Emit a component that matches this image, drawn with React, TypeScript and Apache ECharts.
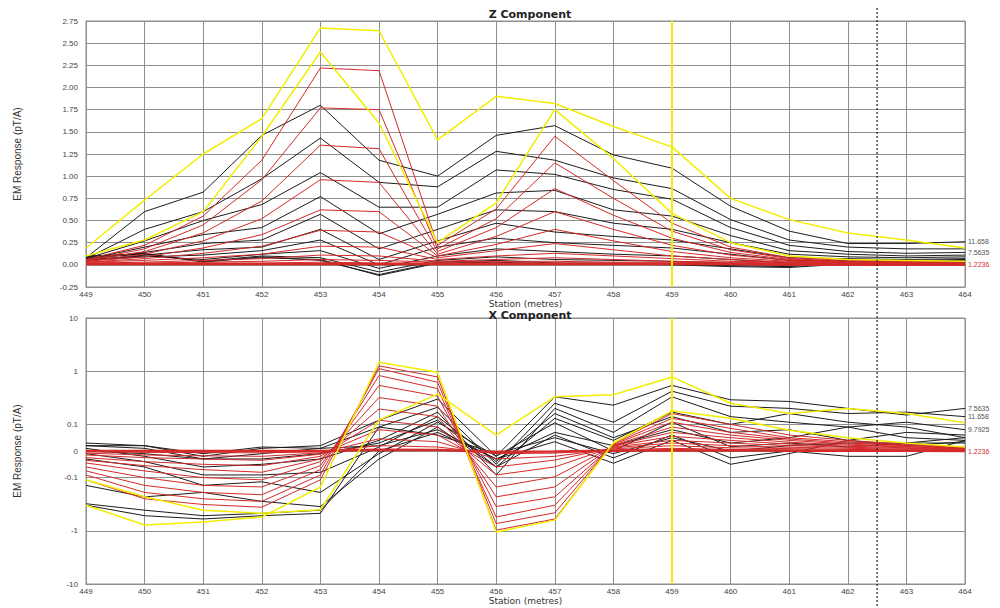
import React, { useEffect, useRef } from "react";
import * as echarts from "echarts";

const stations = [449, 450, 451, 452, 453, 454, 455, 456, 457, 458, 459, 460, 461, 462, 463, 464];
const zTickDigits = 2;
const xLogLabels: Record<string, string> = { "2.5": "10", "1.5": "1", "0.5": "0.1", "0": "0", "-0.5": "-0.1", "-1.5": "-1", "-2.5": "-10" };

// ---- Z component ----
const zYellowA = [0.19, 0.73, 1.25, 1.65, 2.67, 2.64, 1.41, 1.9, 1.82, 1.56, 1.33, 0.75, 0.51, 0.36, 0.28, 0.19];
const zYellowB = [0.1, 0.28, 0.6, 1.45, 2.4, 1.6, 0.25, 0.7, 1.75, 1.2, 0.58, 0.25, 0.1, 0.06, 0.05, 0.04];

const zBlack = [
  [0.08, 0.6, 0.82, 1.46, 1.8, 1.18, 1.0, 1.46, 1.57, 1.24, 1.09, 0.66, 0.38, 0.24, 0.24, 0.26],
  [0.07, 0.4, 0.6, 0.97, 1.43, 0.93, 0.88, 1.28, 1.18, 0.98, 0.86, 0.51, 0.28, 0.2, 0.18, 0.18],
  [0.07, 0.27, 0.5, 0.68, 1.04, 0.65, 0.65, 1.07, 1.02, 0.85, 0.74, 0.42, 0.22, 0.15, 0.13, 0.14],
  [0.06, 0.2, 0.34, 0.42, 0.77, 0.35, 0.57, 0.81, 0.84, 0.62, 0.55, 0.33, 0.16, 0.12, 0.1, 0.11],
  [0.06, 0.14, 0.24, 0.28, 0.57, 0.18, 0.4, 0.62, 0.6, 0.47, 0.4, 0.25, 0.12, 0.09, 0.08, 0.09],
  [0.05, 0.11, 0.17, 0.2, 0.4, 0.06, 0.27, 0.47, 0.37, 0.32, 0.28, 0.18, 0.08, 0.07, 0.06, 0.07],
  [0.05, 0.09, 0.11, 0.16, 0.28, 0.0, 0.2, 0.3, 0.25, 0.22, 0.19, 0.12, 0.05, 0.05, 0.05, 0.06],
  [0.06, 0.1, 0.06, 0.12, 0.16, -0.04, 0.1, 0.18, 0.15, 0.12, 0.1, 0.06, 0.02, 0.04, 0.04, 0.05],
  [0.08, 0.12, 0.04, 0.1, 0.08, -0.08, 0.05, 0.09, 0.06, 0.05, 0.04, 0.02, -0.01, 0.03, 0.03, 0.04],
  [0.09, 0.13, 0.03, 0.09, 0.05, -0.11, 0.03, 0.05, 0.02, 0.02, 0.01, -0.01, -0.02, 0.02, 0.02, 0.03],
  [0.1, 0.12, 0.04, 0.08, 0.06, -0.12, 0.02, 0.03, 0.01, 0.01, 0.0, -0.02, -0.03, 0.01, 0.02, 0.02],
];
const zBlackLabels = ["11.658", "", "7.5635", "", "", "", "", "", "", "", ""];

const zRed = [
  [0.06, 0.22, 0.55, 1.18, 2.22, 2.19, 0.22, 0.63, 1.45, 0.95, 0.47, 0.2, 0.08, 0.05, 0.04, 0.03],
  [0.05, 0.18, 0.45, 0.96, 1.77, 1.75, 0.18, 0.52, 1.15, 0.75, 0.38, 0.17, 0.07, 0.04, 0.03, 0.03],
  [0.05, 0.15, 0.36, 0.72, 1.35, 1.31, 0.15, 0.42, 0.86, 0.56, 0.3, 0.14, 0.06, 0.04, 0.03, 0.02],
  [0.04, 0.12, 0.27, 0.52, 0.96, 0.93, 0.12, 0.32, 0.6, 0.4, 0.22, 0.11, 0.05, 0.03, 0.03, 0.02],
  [0.04, 0.09, 0.19, 0.34, 0.62, 0.6, 0.1, 0.23, 0.4, 0.27, 0.15, 0.08, 0.04, 0.03, 0.02, 0.02],
  [0.03, 0.07, 0.13, 0.21, 0.39, 0.37, 0.08, 0.16, 0.24, 0.17, 0.1, 0.06, 0.03, 0.02, 0.02, 0.02],
  [0.03, 0.05, 0.08, 0.12, 0.21, 0.2, 0.06, 0.1, 0.13, 0.1, 0.07, 0.04, 0.03, 0.02, 0.02, 0.01],
  [0.02, 0.03, 0.05, 0.07, 0.11, 0.1, 0.04, 0.06, 0.08, 0.06, 0.04, 0.03, 0.02, 0.01, 0.01, 0.01],
  [0.02, 0.02, 0.03, 0.04, 0.06, 0.05, 0.03, 0.04, 0.04, 0.03, 0.03, 0.02, 0.01, 0.01, 0.01, 0.01],
  [0.01, 0.01, 0.02, 0.02, 0.03, 0.02, 0.02, 0.02, 0.02, 0.02, 0.02, 0.01, 0.01, 0.01, 0.01, 0.01],
  [0.01, 0.01, 0.01, 0.01, 0.01, 0.01, 0.01, 0.01, 0.01, 0.01, 0.01, 0.01, 0.0, 0.0, 0.0, 0.0],
];
const zRedLabels = ["", "", "", "", "", "", "", "", "", "", "1.2236"];

// ---- X component ----
const xYellowA = [-0.33, -0.78, -0.68, -0.55, -0.15, 1.47, 0.96, -1.05, -0.63, 0.03, 0.18, 0.13, 0.078, 0.05, 0.03, 0.015];
const xYellowB = [-0.11, -0.23, -0.41, -0.47, -0.4, 0.12, 0.37, 0.06, 0.33, 0.36, 0.78, 0.25, 0.16, 0.2, 0.16, 0.107];

const xBlack = [
  [0.03, 0.02, -0.02, 0.01, 0.02, 0.12, 0.3, -0.02, 0.33, 0.23, 0.54, 0.29, 0.27, 0.2, 0.15, 0.2],
  [0.02, 0.01, -0.03, -0.01, 0.01, 0.09, 0.21, -0.05, 0.25, 0.11, 0.42, 0.22, 0.2, 0.16, 0.17, 0.14],
  [0.01, -0.02, -0.06, -0.05, -0.03, 0.04, 0.17, -0.09, 0.2, 0.07, 0.33, 0.14, 0.11, 0.09, 0.11, 0.08],
  [-0.01, -0.04, -0.09, -0.09, -0.08, 0.015, 0.14, -0.04, 0.16, 0.05, 0.14, 0.07, 0.08, 0.04, 0.07, 0.06],
  [-0.03, -0.06, -0.14, -0.12, -0.19, -0.01, 0.11, -0.02, 0.107, 0.0, 0.11, 0.016, 0.03, 0.015, 0.03, 0.05],
  [-0.14, -0.23, -0.19, -0.28, -0.35, -0.03, 0.09, -0.06, 0.06, -0.026, 0.06, -0.026, 0.0, -0.02, -0.02, 0.04],
  [-0.31, -0.41, -0.52, -0.47, -0.41, 0.0, 0.07, -0.03, 0.035, -0.046, 0.04, -0.05, -0.01, 0.04, 0.02, 0.035],
  [-0.33, -0.52, -0.6, -0.52, -0.47, 0.09, 0.06, -0.01, 0.05, -0.01, 0.05, 0.0, 0.02, 0.03, 0.03, 0.03],
  [0.02, 0.02, -0.01, 0.015, 0.01, 0.02, 0.08, -0.03, 0.07, 0.02, 0.08, 0.03, 0.05, 0.09, 0.05, 0.04],
  [0.0, -0.01, -0.03, -0.03, -0.01, 0.03, 0.12, -0.06, 0.13, 0.04, 0.17, 0.1, 0.16, 0.11, 0.09, 0.05],
];
const xBlackLabels = ["7.5635", "11.658", "9.7925", "", "", "", "", "", "", ""];

const xRed = [
  [-0.11, -0.25, -0.32, -0.36, -0.11, 1.26, 0.78, -0.97, -0.6, 0.03, 0.16, 0.1, 0.06, 0.04, 0.025, 0.015],
  [-0.09, -0.19, -0.25, -0.28, -0.09, 1.12, 0.62, -0.73, -0.46, 0.028, 0.13, 0.085, 0.05, 0.035, 0.022, 0.013],
  [-0.075, -0.14, -0.19, -0.21, -0.07, 0.83, 0.47, -0.55, -0.33, 0.025, 0.11, 0.07, 0.045, 0.03, 0.02, 0.012],
  [-0.06, -0.1, -0.14, -0.15, -0.055, 0.54, 0.34, -0.35, -0.23, 0.022, 0.09, 0.06, 0.04, 0.026, 0.017, 0.01],
  [-0.045, -0.075, -0.1, -0.11, -0.04, 0.32, 0.22, -0.23, -0.15, 0.02, 0.07, 0.05, 0.033, 0.022, 0.015, 0.009],
  [-0.035, -0.055, -0.07, -0.08, -0.03, 0.195, 0.14, -0.15, -0.097, 0.018, 0.055, 0.04, 0.026, 0.018, 0.012, 0.008],
  [-0.025, -0.04, -0.05, -0.055, -0.02, 0.12, 0.09, -0.09, -0.06, 0.015, 0.04, 0.03, 0.02, 0.014, 0.01, 0.006],
  [-0.015, -0.025, -0.03, -0.035, -0.012, 0.08, 0.06, -0.06, -0.034, 0.012, 0.03, 0.02, 0.014, 0.01, 0.007, 0.004],
  [-0.008, -0.015, -0.018, -0.02, -0.007, 0.046, 0.035, -0.03, -0.02, 0.008, 0.02, 0.012, 0.009, 0.006, 0.004, 0.003],
  [-0.003, -0.005, -0.006, -0.007, -0.003, 0.02, 0.015, -0.01, -0.008, 0.004, 0.01, 0.006, 0.004, 0.003, 0.002, 0.001],
  [0.0, 0.0, 0.0, 0.0, 0.0, 0.005, 0.004, -0.003, -0.002, 0.001, 0.003, 0.002, 0.001, 0.001, 0.001, 0.0],
];
const xRedLabels = ["", "", "", "", "", "", "", "", "", "", "1.2236"];

const YELLOW = "#f2ee00";
const BLACK = "#1c1c1c";
const RED = "#d42a2a";
const GRID = "#8f8f8f";
const FONT = "'Liberation Sans', Arial, sans-serif";

function symlog(v: number): number {
  const a = Math.abs(v);
  if (a < 0.1) return v * 5;
  return Math.sign(v) * (0.5 + Math.log10(a / 0.1));
}

function pairs(vals: number[], tf?: (v: number) => number) {
  return stations.map((s, i) => [s, tf ? tf(vals[i]) : vals[i]]);
}

function line(name: string, vals: number[], color: string, width: number, idx: number, label: string, tf?: (v: number) => number, z = 2): any {
  const s: any = {
    name,
    type: "line",
    xAxisIndex: idx,
    yAxisIndex: idx,
    data: pairs(vals, tf),
    symbol: "none",
    lineStyle: { color, width },
    itemStyle: { color },
    z,
    silent: true,
  };
  if (label) {
    s.endLabel = {
      show: true,
      formatter: label,
      color: color === RED ? RED : "#555",
      fontSize: 7,
      fontFamily: FONT,
      distance: 3,
    };
  }
  return s;
}

export default function App() {
  const ref = useRef<HTMLDivElement>(null);
  useEffect(() => {
    if (!ref.current) return;
    const chart = echarts.init(ref.current, undefined, { renderer: "svg" });
    const series: any[] = [];
    zBlack.forEach((v, i) => series.push(line("zb" + i, v, BLACK, 1, 0, zBlackLabels[i], undefined, 2)));
    zRed.forEach((v, i) => series.push(line("zr" + i, v, RED, i === zRed.length - 1 ? 2.5 : 1, 0, zRedLabels[i], undefined, 3)));
    series.push(line("zyA", zYellowA, YELLOW, 1.5, 0, "", undefined, 4));
    series.push(line("zyB", zYellowB, YELLOW, 1.5, 0, "", undefined, 4));
    xBlack.forEach((v, i) => series.push(line("xb" + i, v, BLACK, 1, 1, xBlackLabels[i], symlog, 2)));
    xRed.forEach((v, i) => series.push(line("xr" + i, v, RED, i === xRed.length - 1 ? 2.5 : 1, 1, xRedLabels[i], symlog, 3)));
    series.push(line("xyA", xYellowA, YELLOW, 1.5, 1, "", symlog, 4));
    series.push(line("xyB", xYellowB, YELLOW, 1.5, 1, "", symlog, 4));

    // vertical yellow marker at station 459
    [0, 1].forEach((idx) =>
      series.push({
        type: "line",
        xAxisIndex: idx,
        yAxisIndex: idx,
        data: [],
        silent: true,
        markLine: {
          symbol: "none",
          silent: true,
          label: { show: false },
          lineStyle: { color: YELLOW, width: 2, type: "solid" },
          data: [{ xAxis: 459 }],
          z: 5,
        },
      })
    );

    const xAxisCommon = (idx: number) => ({
      type: "value",
      gridIndex: idx,
      min: 449,
      max: 464,
      interval: 1,
      name: "Station (metres)",
      nameLocation: "middle",
      nameGap: 12,
      nameTextStyle: { fontSize: 9, color: "#333", fontFamily: "'DejaVu Sans', sans-serif" },
      axisLine: { show: true, onZero: false, lineStyle: { color: GRID } },
      axisTick: { show: false },
      axisLabel: { fontSize: 8, color: "#444", margin: 3, fontFamily: FONT },
      splitLine: { show: true, lineStyle: { color: GRID, width: 1 } },
    });

    const option: any = {
      animation: false,
      backgroundColor: "#ffffff",
      textStyle: { fontFamily: FONT },
      title: [
        { text: "Z Component", left: 525, top: 4, textAlign: "center", textStyle: { fontSize: 11, fontWeight: "bold", color: "#222", fontFamily: "'DejaVu Sans', sans-serif" } },
        { text: "X Component", left: 525, top: 305, textAlign: "center", textStyle: { fontSize: 11, fontWeight: "bold", color: "#222", fontFamily: "'DejaVu Sans', sans-serif" } },
      ],
      grid: [
        { left: 86, right: 35, top: 21, height: 266, show: true, borderColor: GRID, borderWidth: 1, backgroundColor: "transparent" },
        { left: 86, right: 35, top: 318, height: 266, show: true, borderColor: GRID, borderWidth: 1, backgroundColor: "transparent" },
      ],
      xAxis: [xAxisCommon(0), xAxisCommon(1)],
      yAxis: [
        {
          type: "value",
          gridIndex: 0,
          min: -0.25,
          max: 2.75,
          interval: 0.25,
          name: "EM Response (pT/A)",
          nameLocation: "middle",
          nameGap: 64,
          nameTextStyle: { fontSize: 10, color: "#333", fontFamily: FONT },
          axisLine: { show: true, lineStyle: { color: GRID } },
          axisTick: { show: false },
          axisLabel: { fontSize: 8, color: "#444", margin: 8, formatter: (v: number) => v.toFixed(zTickDigits) },
          splitLine: { show: true, lineStyle: { color: GRID, width: 1 } },
        },
        {
          type: "value",
          gridIndex: 1,
          min: -2.5,
          max: 2.5,
          interval: 0.5,
          name: "EM Response (pT/A)",
          nameLocation: "middle",
          nameGap: 64,
          nameTextStyle: { fontSize: 10, color: "#333", fontFamily: FONT },
          axisLine: { show: true, lineStyle: { color: GRID } },
          axisTick: { show: false },
          axisLabel: {
            fontSize: 8,
            color: "#444",
            margin: 8,
            formatter: (v: number) => xLogLabels[String(Math.round(v * 10) / 10)] ?? "",
          },
          splitLine: {
            show: true,
            lineStyle: {
              color: [GRID, "rgba(0,0,0,0)", GRID, "rgba(0,0,0,0)", GRID, GRID, GRID, "rgba(0,0,0,0)", GRID, "rgba(0,0,0,0)", GRID],
              width: 1,
            },
          },
        },
      ],
      series,
    };
    chart.setOption(option);
    const px = chart.convertToPixel({ gridIndex: 0 }, [462.5, 0]) as number[];
    chart.setOption({
      graphic: [
        {
          type: "line",
          z: 100,
          silent: true,
          shape: { x1: px[0], y1: 8, x2: px[0], y2: 608 },
          style: { stroke: "#222", lineWidth: 1.2, lineDash: [2, 2] },
        },
      ],
    });
    return () => chart.dispose();
  }, []);
  return <div ref={ref} style={{ position: "fixed", left: 0, top: 0, width: 1000, height: 608, background: "#fff" }} />;
}
